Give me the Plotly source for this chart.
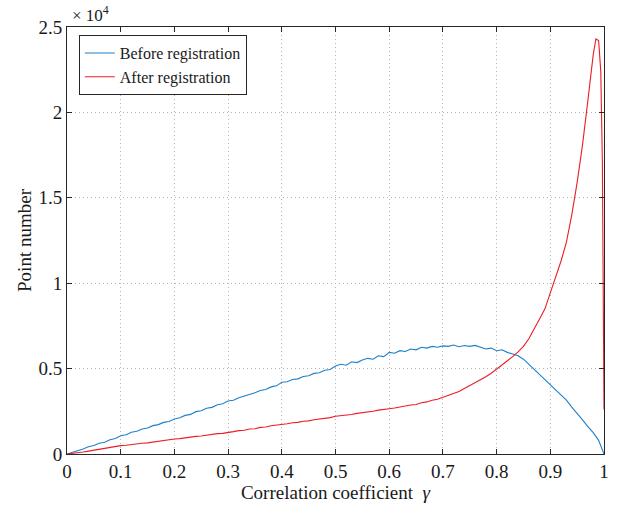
import plotly.graph_objects as go

# Correlation coefficient grid (0 .. 1, step 0.01)
gamma = [round(i * 0.01, 2) for i in range(101)]

before_registration = [
    0, 90, 210, 290, 420, 500, 630, 690, 830, 910,
    1070, 1130, 1270, 1330, 1460, 1520, 1660, 1720, 1850, 1900,
    2050, 2120, 2260, 2320, 2480, 2530, 2680, 2730, 2880, 2940,
    3100, 3150, 3300, 3380, 3500, 3580, 3720, 3780, 3930, 3990,
    4200, 4230, 4360, 4400, 4540, 4580, 4720, 4760, 4900, 4950,
    5150, 5250, 5200, 5400, 5350, 5500, 5600, 5550, 5750, 5700,
    5950, 5900, 6050, 6000, 6150, 6100, 6250, 6200, 6300, 6250,
    6330, 6300, 6380, 6280, 6350, 6300, 6360, 6250, 6150, 6200,
    6050, 6100, 5950, 5850, 5750, 5550, 5250, 4950, 4650, 4380,
    4100, 3780, 3450, 3150, 2750, 2400, 2000, 1600, 1250, 800,
    0,
]

after_gamma = gamma[:99] + [0.985, 0.99, 0.994, 0.997, 1.0]
after_registration = [
    0, 30, 80, 120, 170, 230, 270, 330, 370, 440,
    490, 510, 560, 580, 630, 650, 700, 720, 790, 810,
    880, 900, 950, 970, 1030, 1050, 1110, 1130, 1190, 1210,
    1280, 1310, 1370, 1390, 1460, 1480, 1560, 1580, 1650, 1680,
    1750, 1770, 1830, 1850, 1920, 1940, 2010, 2040, 2110, 2130,
    2210, 2230, 2290, 2310, 2380, 2410, 2460, 2500, 2570, 2590,
    2650, 2690, 2760, 2790, 2870, 2900, 3000, 3050, 3150, 3200,
    3320, 3420, 3550, 3660, 3830, 4000, 4150, 4330, 4520, 4730,
    4970, 5200, 5450, 5700, 5980, 6300, 6750, 7300, 7900, 8500,
    9400, 10300, 11300, 12400, 14000, 15900, 18100, 20700, 23400,
    24300, 24200, 22400, 17000, 2600,
]

x_ticks = [0, 0.1, 0.2, 0.3, 0.4, 0.5, 0.6, 0.7, 0.8, 0.9, 1]
x_ticklabels = ["0", "0.1", "0.2", "0.3", "0.4", "0.5", "0.6", "0.7", "0.8", "0.9", "1"]
y_ticks = [0, 5000, 10000, 15000, 20000, 25000]
y_ticklabels = ["0", "0.5", "1", "1.5", "2", "2.5"]

FONT = "Times New Roman, Liberation Serif, DejaVu Serif"
FRAME = "#262626"
GRID = "#b4b4b4"

fig = go.Figure()
fig.add_trace(go.Scatter(x=gamma, y=before_registration, mode="lines",
                         name="Before registration",
                         line=dict(color="#1f7fc8", width=1.1)))
fig.add_trace(go.Scatter(x=after_gamma, y=after_registration, mode="lines",
                         name="After registration",
                         line=dict(color="#ec1c24", width=1.1)))

axis_common = dict(
    showline=True, linecolor=FRAME, linewidth=1, mirror="allticks",
    ticks="inside", ticklen=5, tickcolor=FRAME, tickwidth=1,
    showgrid=True, gridcolor=GRID, griddash="1px,3px", gridwidth=1,
    zeroline=False,
    tickfont=dict(family=FONT, size=19, color="#1a1a1a"),
)

fig.update_layout(
    width=621, height=511,
    margin=dict(l=67, r=14, t=27, b=56),
    paper_bgcolor="white", plot_bgcolor="white",
    font=dict(family=FONT, color="#1a1a1a"),
    xaxis=dict(range=[0, 1], tickvals=x_ticks, ticktext=x_ticklabels,
               title=dict(text="Correlation coefficient  <i>γ</i>",
                          font=dict(family=FONT, size=19), standoff=4),
               **axis_common),
    yaxis=dict(range=[0, 25000], tickvals=y_ticks, ticktext=y_ticklabels,
               title=dict(text="Point number",
                          font=dict(family=FONT, size=19), standoff=1),
               **axis_common),
    legend=dict(x=0.022, y=0.981, xanchor="left", yanchor="top",
                bgcolor="white", bordercolor=FRAME, borderwidth=1,
                font=dict(family=FONT, size=16, color="#1a1a1a"),
                tracegroupgap=0, itemwidth=30),
    showlegend=True,
)

fig.add_annotation(xref="paper", yref="paper", x=0.005, y=1.0,
                   xanchor="left", yanchor="bottom", showarrow=False,
                   text="× 10<sup>4</sup>",
                   font=dict(family=FONT, size=17, color="#1a1a1a"))

fig.write_html("out.html")
